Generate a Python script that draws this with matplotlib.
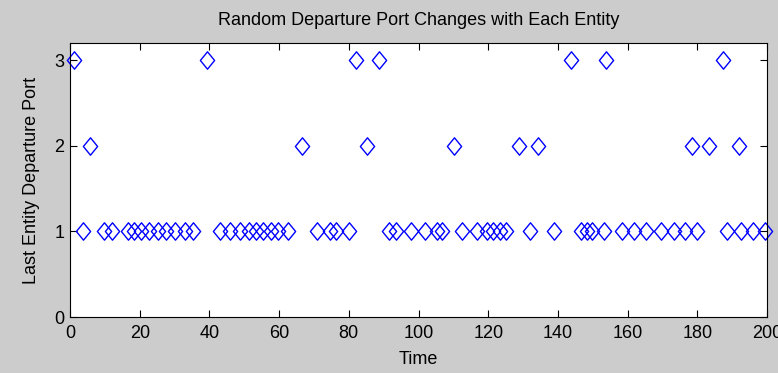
import matplotlib
matplotlib.use("Agg")
import matplotlib.pyplot as plt
from matplotlib.path import Path
import numpy as np

# Departure times for each port value
port1_times = [3.7, 9.8, 12.0, 16.6, 18.4, 20.4, 22.7, 25.2, 27.5, 30.1, 33.0, 35.3,
               43.0, 45.9, 48.8, 51.3, 53.3, 55.4, 57.6, 59.7, 62.5, 70.8, 74.6, 76.3,
               80.0, 91.5, 93.5, 97.8, 101.8, 105.2, 106.7, 112.4, 116.7, 119.6, 121.3,
               123.3, 125.0, 131.9, 138.8, 146.5, 148.3, 149.7, 153.1, 158.3, 161.7,
               165.2, 169.5, 173.2, 176.4, 179.8, 188.4, 192.4, 196.1, 199.3]
port2_times = [5.8, 66.7, 85.1, 110.2, 128.8, 134.3, 178.6, 183.3, 191.9]
port3_times = [1.2, 39.3, 82.0, 88.7, 143.9, 153.9, 187.4]

times = np.array(port1_times + port2_times + port3_times)
ports = np.array([1] * len(port1_times) + [2] * len(port2_times) + [3] * len(port3_times))
order = np.argsort(times)
times, ports = times[order], ports[order]

xticks = list(range(0, 201, 20))
yticks = [0, 1, 2, 3]

plt.rcParams['font.family'] = ['Liberation Sans', 'DejaVu Sans']

fig = plt.figure(figsize=(7.78, 3.73), dpi=100, facecolor='#cccccc')
ax = fig.add_axes([70 / 778, 1 - 317 / 373, (767 - 70) / 778, (317 - 43) / 373])
ax.set_facecolor('white')

diamond = Path([(0, 0.5), (0.41, 0), (0, -0.5), (-0.41, 0), (0, 0.5)],
               [Path.MOVETO, Path.LINETO, Path.LINETO, Path.LINETO, Path.CLOSEPOLY])
ax.plot(times, ports, linestyle='none', marker=diamond, markersize=12.5,
        markerfacecolor='none', markeredgecolor='#0000ff', markeredgewidth=1.0,
        clip_on=False)

ax.set_xlim(0, 200)
ax.set_ylim(0, 3.2)
ax.set_xticks(xticks)
ax.set_yticks(yticks)
ax.tick_params(direction='in', top=True, right=True, length=5, width=0.8,
               labelsize=13, colors='black')
ax.tick_params(axis='x', pad=6)
ax.tick_params(axis='y', pad=4)
for s in ax.spines.values():
    s.set_linewidth(0.8)

ax.set_title('Random Departure Port Changes with Each Entity', fontsize=13, pad=13)
ax.set_xlabel('Time', fontsize=13, labelpad=6)
ax.set_ylabel('Last Entity Departure Port', fontsize=13, labelpad=10)

fig.savefig('out.png', dpi=100, facecolor=fig.get_facecolor())
